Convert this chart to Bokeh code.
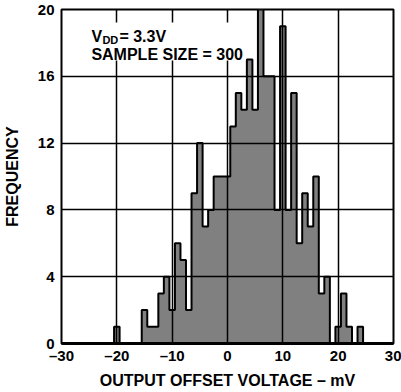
from bokeh.plotting import figure
from bokeh.models import FixedTicker, BoxAnnotation, Label
from bokeh.embed import file_html
from bokeh.resources import INLINE

# Histogram data: 1 mV bins centered on integer mV values
bin_centers = list(range(-20, 25))
counts = [1, 0, 0, 0, 0,
          2, 1, 1, 3, 4, 2, 6, 5, 2, 9, 12, 7, 8, 10, 10,
          10, 13, 15, 14, 17, 14, 20, 16, 16, 8, 19, 8, 15, 6, 9,
          7, 10, 3, 4, 0, 1, 3, 1, 0, 1]

x_ticks = [-30, -20, -10, 0, 10, 20, 30]
x_tick_labels = ["\u201330", "\u201320", "\u201310", "0", "10", "20", "30"]
y_ticks = [0, 4, 8, 12, 16, 20]

FONT = "Liberation Sans"

p = figure(width=401, height=392, x_range=(-30, 30), y_range=(0, 20),
           output_backend="svg", toolbar_location=None,
           min_border_left=57, min_border_right=8, min_border_top=9,
           min_border_bottom=49)
p.background_fill_color = "white"
p.border_fill_color = "white"
p.outline_line_color = "black"
p.outline_line_width = 2

# outline/fill as a step (padded with zero bins)
step_x = [bin_centers[0] - 1] + bin_centers + [bin_centers[-1] + 1]
step_y = [0] + counts + [0]
p.varea_step(x=step_x, y1=[0] * len(step_y), y2=step_y, step_mode="center",
             fill_color="#808080")
p.step(step_x, step_y, mode="center", line_color="black", line_width=2)

# axes
p.xaxis.ticker = FixedTicker(ticks=x_ticks)
p.xaxis.major_label_overrides = {t: l for t, l in zip(x_ticks, x_tick_labels)}
p.yaxis.ticker = FixedTicker(ticks=y_ticks)
for ax in (p.xaxis[0], p.yaxis[0]):
    ax.major_tick_line_color = None
    ax.minor_tick_line_color = None
    ax.major_tick_out = 0
    ax.major_tick_in = 0
    ax.axis_line_color = None
    ax.major_label_text_font = FONT
    ax.major_label_text_font_style = "bold"
    ax.major_label_text_font_size = "15px"
    ax.major_label_text_color = "black"
    ax.axis_label_text_font = FONT
    ax.axis_label_text_font_style = "bold"
    ax.axis_label_text_font_size = "16px"
    ax.axis_label_text_color = "black"
p.xaxis.axis_line_color = "black"
p.xaxis.axis_line_width = 3
p.xaxis.axis_label = "OUTPUT OFFSET VOLTAGE \u2013 mV"
p.yaxis.axis_label = "FREQUENCY"
p.xaxis.major_label_standoff = 3
p.xaxis.axis_label_standoff = 5
p.yaxis.major_label_standoff = 7
p.yaxis.axis_label_standoff = 14

# grid on top of the bars
p.xgrid.ticker = FixedTicker(ticks=x_ticks)
p.ygrid.ticker = FixedTicker(ticks=y_ticks)
for g in (p.xgrid[0], p.ygrid[0]):
    g.grid_line_color = "black"
    g.grid_line_width = 1.5
    g.grid_line_alpha = 1.0
    g.level = "annotation"

# white backing box for the annotation text
box = BoxAnnotation(left=-26, right=3.3, bottom=16.95, top=19.22,
                    fill_color="white", fill_alpha=1.0, line_color=None)
box.level = "overlay"
p.add_layout(box)

ax0, ay1, ay2 = -24.6, 18.38, 17.31
for txt, size, dx, dy in [("V", "16px", 0, 0), ("DD", "11px", 11, -3),
                          ("= 3.3V", "16px", 28, 0)]:
    lb = Label(x=ax0, y=ay1, text=txt, x_offset=dx, y_offset=dy,
               text_font=FONT, text_font_style="bold", text_font_size=size,
               text_color="black", text_baseline="alphabetic")
    lb.level = "overlay"
    p.add_layout(lb)
lb2 = Label(x=ax0, y=ay2, text="SAMPLE SIZE = 300",
            text_font=FONT, text_font_style="bold", text_font_size="16px",
            text_color="black", text_baseline="alphabetic")
lb2.level = "overlay"
p.add_layout(lb2)

open("out.html", "w").write(file_html(p, INLINE))
